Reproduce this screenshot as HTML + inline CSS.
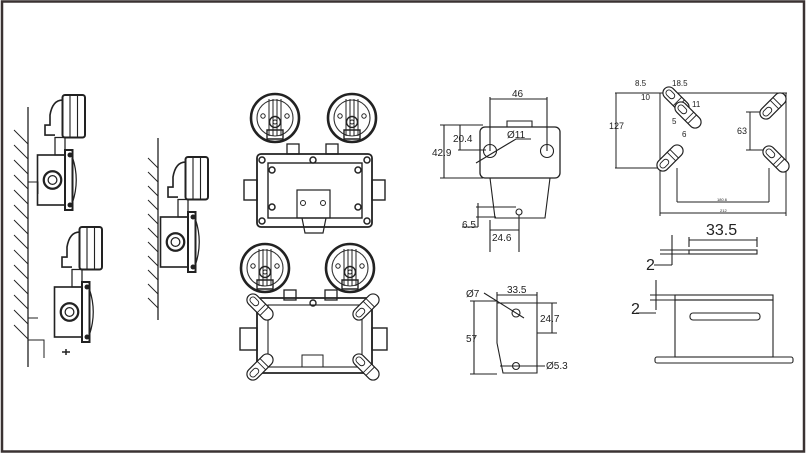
<!DOCTYPE html>
<html><head><meta charset="utf-8"><style>
html,body{margin:0;padding:0;background:#fff}
svg{display:block}
text{font-family:"Liberation Sans",sans-serif;fill:#222}
</style></head><body>
<svg width="806" height="454" viewBox="0 0 806 454" xmlns="http://www.w3.org/2000/svg">
<rect x="2" y="1.5" width="802" height="450" fill="#fff" stroke="#3a3232" stroke-width="2.5"/>
<defs>
<g id="lampR">
 <circle r="24" fill="none" stroke="#222" stroke-width="2.6"/>
 <circle r="18" fill="none" stroke="#333" stroke-width="1.1"/>
 <circle cy="4" r="5.5" fill="none" stroke="#222" stroke-width="1.4"/>
 <circle cy="4" r="2" fill="none" stroke="#222"/>
 <path d="M-6 -19V18M-2 -19V18M2 -19V18M6 -19V18" stroke="#222" stroke-width="1"/>
 <path d="M-8 12h16v9h-16z" fill="none" stroke="#222" stroke-width="1.4"/>
 <circle cx="-12" cy="-2" r="2.2" fill="none" stroke="#222"/>
 <circle cx="12" cy="-2" r="2.2" fill="none" stroke="#222"/>
</g>
<g id="slot">
 <rect x="-16" y="-6" width="32" height="12" rx="6" fill="#fff" stroke="#222" stroke-width="1.2"/>
 <rect x="-13" y="-3" width="10" height="6" rx="3" fill="none" stroke="#222" stroke-width="0.9"/>
 <path d="M2 -6v12M6 -6v12" stroke="#222" stroke-width="0.9"/>
</g>
<g id="side">
 <path d="M14 -40 q-8 0 -10 12 v8 h-4 v8 h8" fill="none" stroke="#222" stroke-width="1.3"/>
 <rect x="14" y="-44" width="18" height="34" rx="2" fill="none" stroke="#222" stroke-width="1.6"/>
 <path d="M20 -44v34M26 -44v34" stroke="#222" stroke-width="0.9"/>
 <rect x="8" y="-10" width="8" height="14" fill="none" stroke="#222"/>
 <rect x="-6" y="4" width="22" height="40" fill="none" stroke="#222" stroke-width="1.3"/>
 <rect x="16" y="0" width="6" height="48" fill="none" stroke="#222" stroke-width="1.6"/>
 <path d="M22 6 q6 18 0 36" fill="none" stroke="#222"/>
 <circle cx="6" cy="24" r="7" fill="none" stroke="#222" stroke-width="1.8"/>
 <circle cx="6" cy="24" r="3.5" fill="none" stroke="#222"/>
 <circle cx="20" cy="4" r="2" fill="#222"/><circle cx="20" cy="44" r="2" fill="#222"/>
</g>
</defs>

<!-- left wall 1 -->
<line x1="28" y1="107" x2="28" y2="367" stroke="#222" stroke-width="1.3"/>
<path d="M14 130l14 14M14 145l14 14M14 160l14 14M14 175l14 14M14 190l14 14M14 205l14 14M14 220l14 14M14 235l14 14M14 250l14 14M14 265l14 14M14 280l14 14M14 295l14 14M14 310l14 14M14 325l14 14" stroke="#222" stroke-width="0.9"/>
<path d="M28 182h10v12M28 318h10M28 340h16v18" fill="none" stroke="#222"/>
<g transform="translate(45 150) scale(1.25)"><use href="#side"/></g>
<g transform="translate(62 282) scale(1.25)"><use href="#side"/></g>
<path d="M62 352h8M66 349v6" stroke="#222" stroke-width="1.5"/>

<!-- wall 2 -->
<line x1="158" y1="138" x2="158" y2="320" stroke="#222" stroke-width="1.3"/>
<path d="M148 158l10 10M148 172l10 10M148 186l10 10M148 200l10 10M148 214l10 10M148 228l10 10M148 242l10 10M148 256l10 10M148 270l10 10M148 284l10 10M148 298l10 10" stroke="#222" stroke-width="0.9"/>
<g transform="translate(168 212) scale(1.25)"><use href="#side"/></g>

<!-- front top -->
<use href="#lampR" x="275" y="118"/>
<use href="#lampR" x="352" y="118"/>
<rect x="257" y="154" width="115" height="73" rx="4" fill="none" stroke="#222" stroke-width="1.8"/>
<rect x="268" y="163" width="94" height="55" fill="none" stroke="#222" stroke-width="1.4"/>
<rect x="244" y="180" width="13" height="20" fill="none" stroke="#222" stroke-width="1.4"/>
<rect x="372" y="180" width="13" height="20" fill="none" stroke="#222" stroke-width="1.4"/>
<rect x="287" y="144" width="12" height="10" fill="none" stroke="#222" stroke-width="1.3"/>
<rect x="326" y="144" width="12" height="10" fill="none" stroke="#222" stroke-width="1.3"/>
<rect x="297" y="190" width="33" height="28" fill="none" stroke="#222" stroke-width="1.2"/>
<circle cx="303" cy="203" r="2.5" fill="none" stroke="#222"/><circle cx="323" cy="203" r="2.5" fill="none" stroke="#222"/>
<path d="M302 218l3 15h18l3 -15" fill="none" stroke="#222" stroke-width="1.2"/>
<g fill="#fff" stroke="#222" stroke-width="1.5"><circle cx="262" cy="160" r="3"/><circle cx="367" cy="160" r="3"/><circle cx="262" cy="221" r="3"/><circle cx="367" cy="221" r="3"/><circle cx="272" cy="170" r="3"/><circle cx="358" cy="170" r="3"/><circle cx="272" cy="207" r="3"/><circle cx="358" cy="207" r="3"/><circle cx="313" cy="160" r="3"/></g>

<!-- front bottom -->
<use href="#lampR" x="265" y="268"/>
<use href="#lampR" x="350" y="268"/>
<rect x="257" y="298" width="115" height="75" rx="4" fill="none" stroke="#222" stroke-width="1.8"/>
<rect x="268" y="305" width="94" height="62" fill="none" stroke="#222" stroke-width="1.1"/>
<rect x="240" y="328" width="17" height="22" fill="none" stroke="#222" stroke-width="1.4"/>
<rect x="372" y="328" width="15" height="22" fill="none" stroke="#222" stroke-width="1.4"/>
<rect x="284" y="290" width="12" height="10" fill="none" stroke="#222" stroke-width="1.3"/>
<rect x="325" y="290" width="12" height="10" fill="none" stroke="#222" stroke-width="1.3"/>
<path d="M302 367v-12h21v12" fill="none" stroke="#222"/>
<circle cx="313" cy="303" r="3" fill="none" stroke="#222" stroke-width="1.4"/>
<use href="#slot" x="260" y="307" transform="rotate(45 260 307)"/>
<use href="#slot" x="366" y="307" transform="rotate(-45 366 307)"/>
<use href="#slot" x="260" y="367" transform="rotate(-45 260 367)"/>
<use href="#slot" x="366" y="367" transform="rotate(45 366 367)"/>

<!-- bracket top -->
<g stroke="#222" fill="none" stroke-width="1.1">
<path d="M507 127v-6h25v6"/>
<rect x="480" y="127" width="80" height="51" rx="5" stroke-width="1.3"/>
<circle cx="490" cy="151" r="6.5"/><circle cx="547" cy="151" r="6.5"/>
<path d="M490 178l5 40h50l5 -40"/>
<circle cx="519" cy="212" r="3"/>
<path d="M490 151V97M547 151V97M490 99h57"/>
<path d="M440 125h43M440 178h43M444 125v53M460 125v25M458 150h28M476 163l40 -24h15"/>
<path d="M476 207h40M476 217h20M478 203v24M462 227h16M490 220v32M519 215v37M490 230h29"/>
</g>
<text x="512" y="97" font-size="10">46</text>
<text x="432" y="156" font-size="10">42.9</text>
<text x="453" y="142" font-size="10">20.4</text>
<text x="507" y="138" font-size="10">Ø11</text>
<text x="462" y="228" font-size="10">6.5</text>
<text x="492" y="241" font-size="10">24.6</text>

<!-- bracket bottom -->
<g stroke="#222" fill="none" stroke-width="1.1">
<path d="M497 303h40v70h-34l-6 -30z"/>
<circle cx="516" cy="313" r="4"/><circle cx="516" cy="366" r="3.5"/>
<path d="M497 303V292M537 303V292M497 295h40M470 301h27M470 374h27M474 301v73M537 303h20M537 333h20M552 303v30M484 293l40 25M500 366h45"/>
</g>
<text x="507" y="293" font-size="10">33.5</text>
<text x="466" y="297" font-size="10">Ø7</text>
<text x="540" y="322" font-size="10">24.7</text>
<text x="466" y="342" font-size="10">57</text>
<text x="546" y="369" font-size="10">Ø5.3</text>

<!-- top right plate -->
<g stroke="#222" fill="none" stroke-width="1">
<path d="M615 93h172M615 168h45M660 93v123M786 93v123M616 93v75M660 213h126M677 202h92M677 168v34M769 168v34M746 112h20M746 150h20M750 112v38"/>
</g>
<use href="#slot" x="676" y="100" transform="rotate(45 676 100)"/>
<use href="#slot" x="688" y="115" transform="rotate(45 688 115)"/>
<use href="#slot" x="773" y="106" transform="rotate(-45 773 106)"/>
<use href="#slot" x="670" y="158" transform="rotate(-45 670 158)"/>
<use href="#slot" x="776" y="159" transform="rotate(45 776 159)"/>
<text x="635" y="86" font-size="8">8.5</text>
<text x="672" y="86" font-size="8">18.5</text>
<text x="641" y="100" font-size="8">10</text>
<text x="692" y="107" font-size="8">11</text>
<text x="672" y="124" font-size="8">5</text>
<text x="682" y="137" font-size="8">6</text>
<text x="609" y="129" font-size="9">127</text>
<text x="737" y="134" font-size="9">63</text>
<text x="717" y="201" font-size="4">180.6</text>
<text x="720" y="212" font-size="4">212</text>

<!-- bottom right -->
<g stroke="#222" fill="none" stroke-width="1.1">
<rect x="689" y="250" width="68" height="4"/>
<path d="M689 247v-10M757 247v-10M689 240h68M672 235v30M660 250h30M660 254h30M672 265h-18"/>
<rect x="675" y="295" width="98" height="5"/>
<rect x="675" y="300" width="98" height="57"/>
<rect x="690" y="313" width="70" height="7" rx="3"/>
<rect x="655" y="357" width="138" height="6" rx="2"/>
<path d="M656 280v30M650 295h25M650 300h25M656 313h-20"/>
</g>
<text x="706" y="235" font-size="16">33.5</text>
<text x="646" y="270" font-size="16">2</text>
<text x="631" y="314" font-size="16">2</text>
</svg>
</body></html>
